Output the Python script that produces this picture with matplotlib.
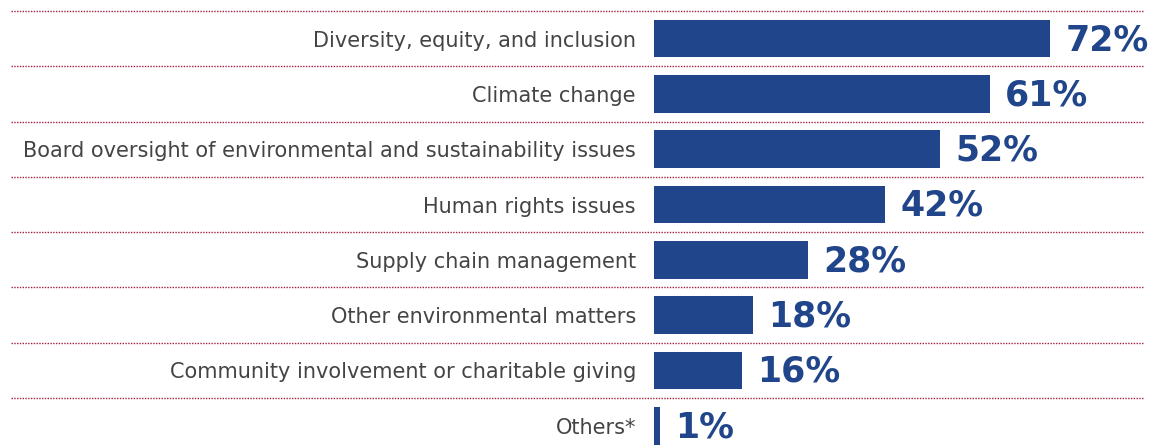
import matplotlib
matplotlib.use("Agg")
import matplotlib.pyplot as plt

categories = [
    "Diversity, equity, and inclusion",
    "Climate change",
    "Board oversight of environmental and sustainability issues",
    "Human rights issues",
    "Supply chain management",
    "Other environmental matters",
    "Community involvement or charitable giving",
    "Others*",
]
values = [72, 61, 52, 42, 28, 18, 16, 1]
value_labels = ["72%", "61%", "52%", "42%", "28%", "18%", "16%", "1%"]

BAR_COLOR = "#21458A"
SEP_COLOR = "#A3203F"
TEXT_COLOR = "#444444"

W, H = 1158, 445
fig = plt.figure(figsize=(W / 100, H / 100), dpi=100)

left_px, right_px = 654, 1143
top_px = 11
row_px = 55.3
n = len(categories)
bottom_px = top_px + row_px * n
ax = fig.add_axes([left_px / W, 1 - bottom_px / H,
                   (right_px - left_px) / W, (bottom_px - top_px) / H])

scale = 5.5  # px per percent
ax.set_xlim(0, (right_px - left_px) / scale)
ax.set_ylim(n - 0.5, -0.5)

ypos = list(range(n))
ax.barh(ypos, values, height=0.68, color=BAR_COLOR, linewidth=0)

for y, v, lab in zip(ypos, values, value_labels):
    ax.annotate(lab, xy=(v, y), xytext=(11, -1), textcoords="offset points",
                ha="left", va="center", fontsize=25, fontweight="bold",
                color=BAR_COLOR, annotation_clip=False)

# dotted separators spanning full width
xmin_ax = (11 - left_px) / (right_px - left_px)
for k in range(n):
    ax.axhline(k - 0.5, xmin=xmin_ax, xmax=1.0, color=SEP_COLOR,
               linewidth=1.0, linestyle=(0, (1, 1)), clip_on=False)

ax.set_yticks(ypos)
ax.set_yticklabels(categories, fontsize=15, color=TEXT_COLOR)
ax.tick_params(axis="y", length=0, pad=13)
ax.tick_params(axis="x", bottom=False, labelbottom=False)
for s in ax.spines.values():
    s.set_visible(False)

fig.savefig("out.png", dpi=100)
